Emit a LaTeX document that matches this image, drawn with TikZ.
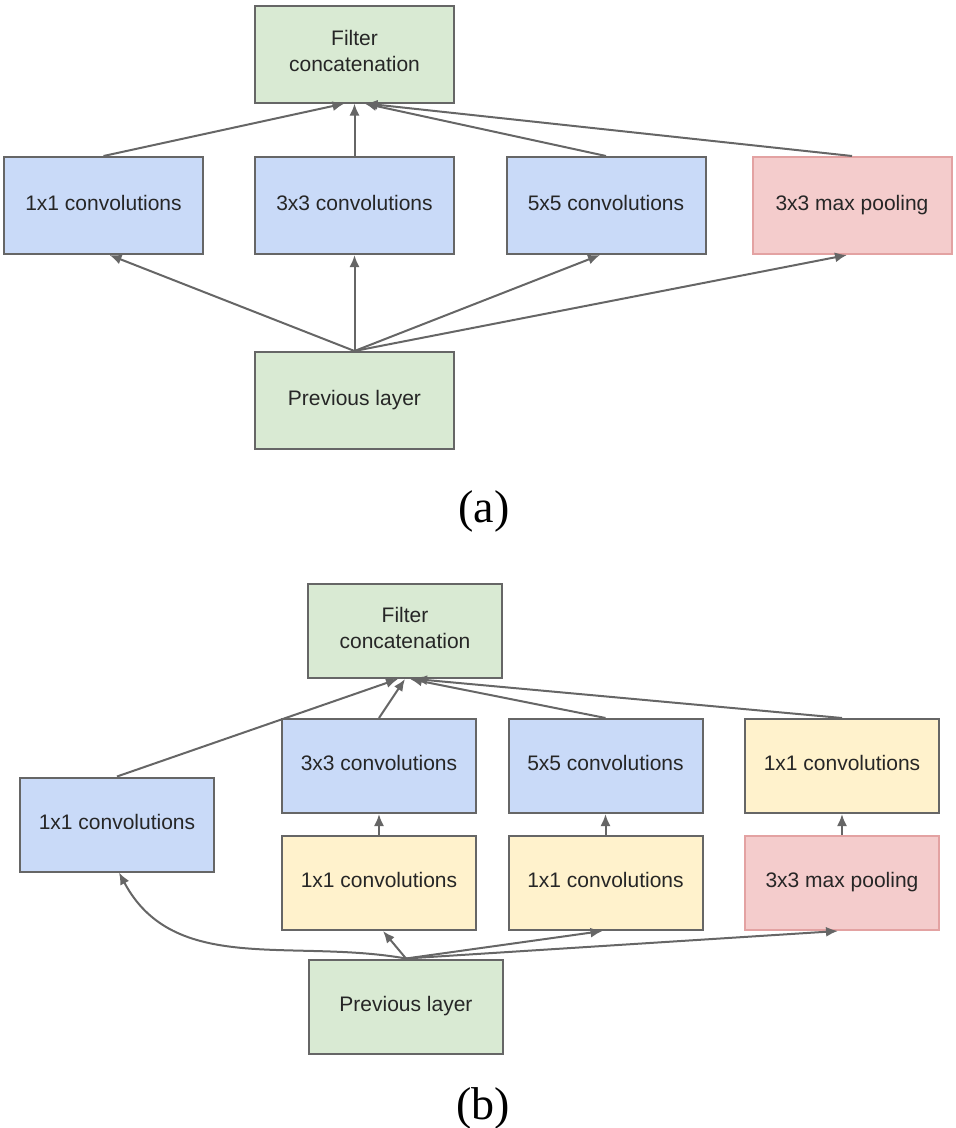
\documentclass[tikz,border=0pt]{standalone}
\usepackage{fontspec}
\setmainfont{Liberation Sans}
\newfontfamily\capfont{Liberation Serif}
\usetikzlibrary{arrows.meta}
\definecolor{convblue}{HTML}{C9DAF8}
\definecolor{layergreen}{HTML}{D9EAD3}
\definecolor{poolred}{HTML}{F4CCCC}
\definecolor{poolborder}{HTML}{E3A2A2}
\definecolor{reduceyellow}{HTML}{FFF2CC}
\definecolor{edgegray}{HTML}{666666}
\newcommand{\lowstrut}{\rule[-6pt]{0pt}{6pt}}
\begin{document}
\begin{tikzpicture}[x=1pt, y=1pt,
    layer/.style={draw=edgegray, line width=2pt, rectangle, align=center,
        font=\fontsize{21}{26}\selectfont, text=black!85, execute at end node=\lowstrut},
    bigbox/.style={layer, minimum width=199pt, minimum height=97pt},
    smallbox/.style={layer, minimum width=194pt, minimum height=94pt},
    link/.style={draw=edgegray, line width=2pt, -{Latex[length=12pt, width=10pt]}},
    caption/.style={font=\capfont\fontsize{46}{50}\selectfont}]
    \useasboundingbox (0,0) rectangle (956,-1128);

    % (a) naive inception module
    \node[bigbox, fill=layergreen] (concatA) at (354.5,-54) {Filter\\concatenation};
    \node[bigbox, fill=convblue] (convOneA) at (103.5,-205.5) {1x1 convolutions};
    \node[bigbox, fill=convblue] (convThreeA) at (354.5,-205.5) {3x3 convolutions};
    \node[bigbox, fill=convblue] (convFiveA) at (606,-205.5) {5x5 convolutions};
    \node[bigbox, fill=poolred, draw=poolborder] (poolA) at (852,-205.5) {3x3 max pooling};
    \node[bigbox, fill=layergreen] (prevA) at (354.5,-400.5) {Previous layer};
    \node[caption] (capA) at (484,-511) {(a)};

    % (a) connections
    \draw[link] (convOneA.north) -- ([xshift=-10pt]concatA.south);
    \draw[link] (convThreeA.north) -- (concatA.south);
    \draw[link] (convFiveA.north) -- ([xshift=10pt]concatA.south);
    \draw[link] (poolA.north) -- ([xshift=11pt]concatA.south);
    \draw[link] (prevA.north) -- ([xshift=6pt]convOneA.south);
    \draw[link] (prevA.north) -- (convThreeA.south);
    \draw[link] (prevA.north) -- ([xshift=-6pt]convFiveA.south);
    \draw[link] (prevA.north) -- ([xshift=-5pt]poolA.south);

    % (b) inception module with dimension reductions
    \node[smallbox, fill=layergreen] (concatB) at (405,-631) {Filter\\concatenation};
    \node[smallbox, fill=convblue] (convOneB) at (117,-824.5) {1x1 convolutions};
    \node[smallbox, fill=convblue] (convThreeB) at (379,-766) {3x3 convolutions};
    \node[smallbox, fill=convblue] (convFiveB) at (605.5,-766) {5x5 convolutions};
    \node[smallbox, fill=reduceyellow] (projB) at (842,-766) {1x1 convolutions};
    \node[smallbox, fill=reduceyellow] (reduceThreeB) at (379,-883) {1x1 convolutions};
    \node[smallbox, fill=reduceyellow] (reduceFiveB) at (605.5,-883) {1x1 convolutions};
    \node[smallbox, fill=poolred, draw=poolborder] (poolB) at (842,-883) {3x3 max pooling};
    \node[smallbox, fill=layergreen] (prevB) at (406,-1006.5) {Previous layer};
    \node[caption] (capB) at (483,-1108) {(b)};

    % (b) connections
    \draw[link] (convOneB.north) -- ([xshift=-7pt]concatB.south);
    \draw[link] (convThreeB.north) -- (concatB.south);
    \draw[link] (convFiveB.north) -- ([xshift=5pt]concatB.south);
    \draw[link] (projB.north) -- ([xshift=10pt]concatB.south);
    \draw[link] (reduceThreeB.north) -- (convThreeB.south);
    \draw[link] (reduceFiveB.north) -- (convFiveB.south);
    \draw[link] (poolB.north) -- (projB.south);
    \draw[link] (prevB.north) to[out=170, in=-62] ([xshift=2pt]convOneB.south);
    \draw[link] (prevB.north) -- ([xshift=4pt]reduceThreeB.south);
    \draw[link] (prevB.north) -- ([xshift=-3pt]reduceFiveB.south);
    \draw[link] (prevB.north) -- ([xshift=-4pt]poolB.south);

\end{tikzpicture}
\end{document}
